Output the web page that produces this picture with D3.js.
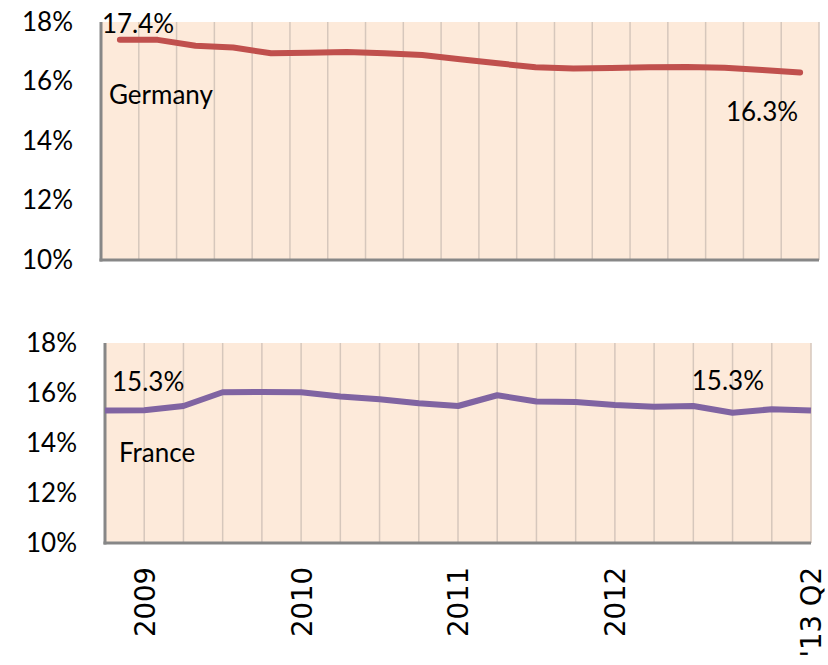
<!DOCTYPE html>
<html>
<head>
<meta charset="utf-8">
<script src="https://cdn.jsdelivr.net/npm/d3@7"></script>
<style>
  html, body { margin: 0; padding: 0; background: #ffffff; }
  svg { display: block; }
</style>
</head>
<body>
<svg id="chart" width="828" height="665"></svg>
<script>
// Quarterly series, 2008 Q4 through 2013 Q2
const quarters = [
  "2008 Q4",
  "2009 Q1", "2009 Q2", "2009 Q3", "2009 Q4",
  "2010 Q1", "2010 Q2", "2010 Q3", "2010 Q4",
  "2011 Q1", "2011 Q2", "2011 Q3", "2011 Q4",
  "2012 Q1", "2012 Q2", "2012 Q3", "2012 Q4",
  "2013 Q1", "2013 Q2"
];

// Share (%) for each quarter
const germany = [17.4, 17.4, 17.2, 17.14, 16.95, 16.97, 16.99, 16.95, 16.89, 16.75,
                 16.61, 16.48, 16.44, 16.45, 16.48, 16.49, 16.46, 16.39, 16.3];
const france  = [15.3, 15.31, 15.48, 16.03, 16.04, 16.03, 15.86, 15.75, 15.59, 15.48,
                 15.91, 15.66, 15.64, 15.52, 15.45, 15.48, 15.21, 15.35, 15.3];

// Axis labelling
const yTicks = [10, 12, 14, 16, 18];
const xTickQuarters = ["2009 Q1", "2010 Q1", "2011 Q1", "2012 Q1", "2013 Q2"];
const xTickLabels   = ["2009", "2010", "2011", "2012", "'13 Q2"];

const svg = d3.select("#chart");
const fmtPct = d => d3.format(".1f")(d) + "%";

const COLORS = { bg: "#fdeada", grid: "#d6c7bc", axis: "#878787" };
const textFont = "Lato, 'Open Sans', sans-serif";
const textSize = 26;

// ---------- Upper panel: Germany (values centred in category bands) ----------
const boxA = { left: 101, right: 819, top: 22, bottom: 260 };
const xTop = d3.scaleBand().domain(quarters).range([boxA.left, boxA.right]).padding(0);
const yTop = d3.scaleLinear().domain([10, 18]).range([boxA.bottom, boxA.top]);
const cxTop = q => xTop(q) + xTop.bandwidth() / 2;

const gTop = svg.append("g");
gTop.append("rect")
  .attr("x", boxA.left).attr("y", boxA.top)
  .attr("width", boxA.right - boxA.left).attr("height", boxA.bottom - boxA.top)
  .attr("fill", COLORS.bg);

// vertical gridlines on band boundaries
gTop.append("g").selectAll("line")
  .data(quarters.slice(1).map(q => xTop(q)).concat([boxA.right]))
  .join("line")
  .attr("x1", d => d).attr("x2", d => d)
  .attr("y1", boxA.top).attr("y2", boxA.bottom)
  .attr("stroke", COLORS.grid).attr("stroke-width", 1.5);

// y axis labels
const yAxisTop = d3.axisLeft(yTop).tickValues(yTicks).tickSize(0).tickPadding(28)
  .tickFormat(d => d + "%");
gTop.append("g").attr("transform", `translate(${boxA.left},0)`).call(yAxisTop)
  .call(g => g.select(".domain").remove())
  .selectAll("text")
  .attr("font-family", textFont).attr("font-size", textSize).attr("fill", "#000");

// axis lines
gTop.append("line").attr("x1", boxA.left).attr("x2", boxA.left)
  .attr("y1", boxA.top).attr("y2", boxA.bottom + 1.5)
  .attr("stroke", COLORS.axis).attr("stroke-width", 3);
gTop.append("line").attr("x1", boxA.left - 1.5).attr("x2", boxA.right)
  .attr("y1", boxA.bottom).attr("y2", boxA.bottom)
  .attr("stroke", COLORS.axis).attr("stroke-width", 3);

const lineTop = d3.line().x((d, i) => cxTop(quarters[i])).y(d => yTop(d));
gTop.append("path").datum(germany)
  .attr("d", lineTop).attr("fill", "none")
  .attr("stroke", "#c0504d").attr("stroke-width", 6)
  .attr("stroke-linecap", "round").attr("stroke-linejoin", "round");

// annotations
const gFirst = germany[0], gLast = germany[germany.length - 1];
gTop.append("text").text(fmtPct(gFirst))
  .attr("x", cxTop(quarters[0]) - 18).attr("y", yTop(gFirst) - 7)
  .attr("font-family", textFont).attr("font-size", textSize);
gTop.append("text").text("Germany")
  .attr("x", 109).attr("y", 104)
  .attr("font-family", textFont).attr("font-size", textSize);
gTop.append("text").text(fmtPct(gLast))
  .attr("x", cxTop(quarters[quarters.length - 1]) - 2).attr("y", yTop(gLast) + 48)
  .attr("text-anchor", "end")
  .attr("font-family", textFont).attr("font-size", textSize);

// ---------- Lower panel: France (values on tick marks) ----------
const boxB = { left: 105, right: 811, top: 343, bottom: 543 };
const xBot = d3.scalePoint().domain(quarters).range([boxB.left, boxB.right]);
const yBot = d3.scaleLinear().domain([10, 18]).range([boxB.bottom, boxB.top]);

const gBot = svg.append("g");
gBot.append("rect")
  .attr("x", boxB.left).attr("y", boxB.top)
  .attr("width", boxB.right - boxB.left).attr("height", boxB.bottom - boxB.top)
  .attr("fill", COLORS.bg);

gBot.append("g").selectAll("line")
  .data(quarters.slice(1))
  .join("line")
  .attr("x1", d => xBot(d)).attr("x2", d => xBot(d))
  .attr("y1", boxB.top).attr("y2", boxB.bottom)
  .attr("stroke", COLORS.grid).attr("stroke-width", 1.5);

const yAxisBot = d3.axisLeft(yBot).tickValues(yTicks).tickSize(0).tickPadding(28)
  .tickFormat(d => d + "%");
gBot.append("g").attr("transform", `translate(${boxB.left},0)`).call(yAxisBot)
  .call(g => g.select(".domain").remove())
  .selectAll("text")
  .attr("font-family", textFont).attr("font-size", textSize).attr("fill", "#000");

// category axis with rotated year labels
const xAxisBot = d3.axisBottom(xBot).tickValues(xTickQuarters).tickSize(0).tickPadding(0)
  .tickFormat(q => xTickLabels[xTickQuarters.indexOf(q)]);
gBot.append("g").attr("transform", `translate(0,${boxB.bottom})`).call(xAxisBot)
  .call(g => g.select(".domain").remove())
  .selectAll("text")
  .attr("font-family", "'DejaVu Sans', Verdana, sans-serif").attr("font-size", 27.5)
  .attr("fill", "#000")
  .attr("text-anchor", "end")
  .attr("dy", "0.36em")
  .attr("transform", "translate(0,24) rotate(-90)")
  .attr("x", 0).attr("y", 0);

gBot.append("line").attr("x1", boxB.left).attr("x2", boxB.left)
  .attr("y1", boxB.top).attr("y2", boxB.bottom + 1.5)
  .attr("stroke", COLORS.axis).attr("stroke-width", 3);
gBot.append("line").attr("x1", boxB.left - 1.5).attr("x2", boxB.right)
  .attr("y1", boxB.bottom).attr("y2", boxB.bottom)
  .attr("stroke", COLORS.axis).attr("stroke-width", 3);

const lineBot = d3.line().x((d, i) => xBot(quarters[i])).y(d => yBot(d));
gBot.append("path").datum(france)
  .attr("d", lineBot).attr("fill", "none")
  .attr("stroke", "#8064a2").attr("stroke-width", 6)
  .attr("stroke-linejoin", "round");

const fFirst = france[0], fLast = france[france.length - 1];
gBot.append("text").text(fmtPct(fFirst))
  .attr("x", xBot(quarters[0]) + 7).attr("y", yBot(fFirst) - 20)
  .attr("font-family", textFont).attr("font-size", textSize);
gBot.append("text").text("France")
  .attr("x", 119).attr("y", 462)
  .attr("font-family", textFont).attr("font-size", textSize);
gBot.append("text").text(fmtPct(fLast))
  .attr("x", xBot(quarters[quarters.length - 1]) - 47).attr("y", yBot(fLast) - 21)
  .attr("text-anchor", "end")
  .attr("font-family", textFont).attr("font-size", textSize);
</script>
</body>
</html>
